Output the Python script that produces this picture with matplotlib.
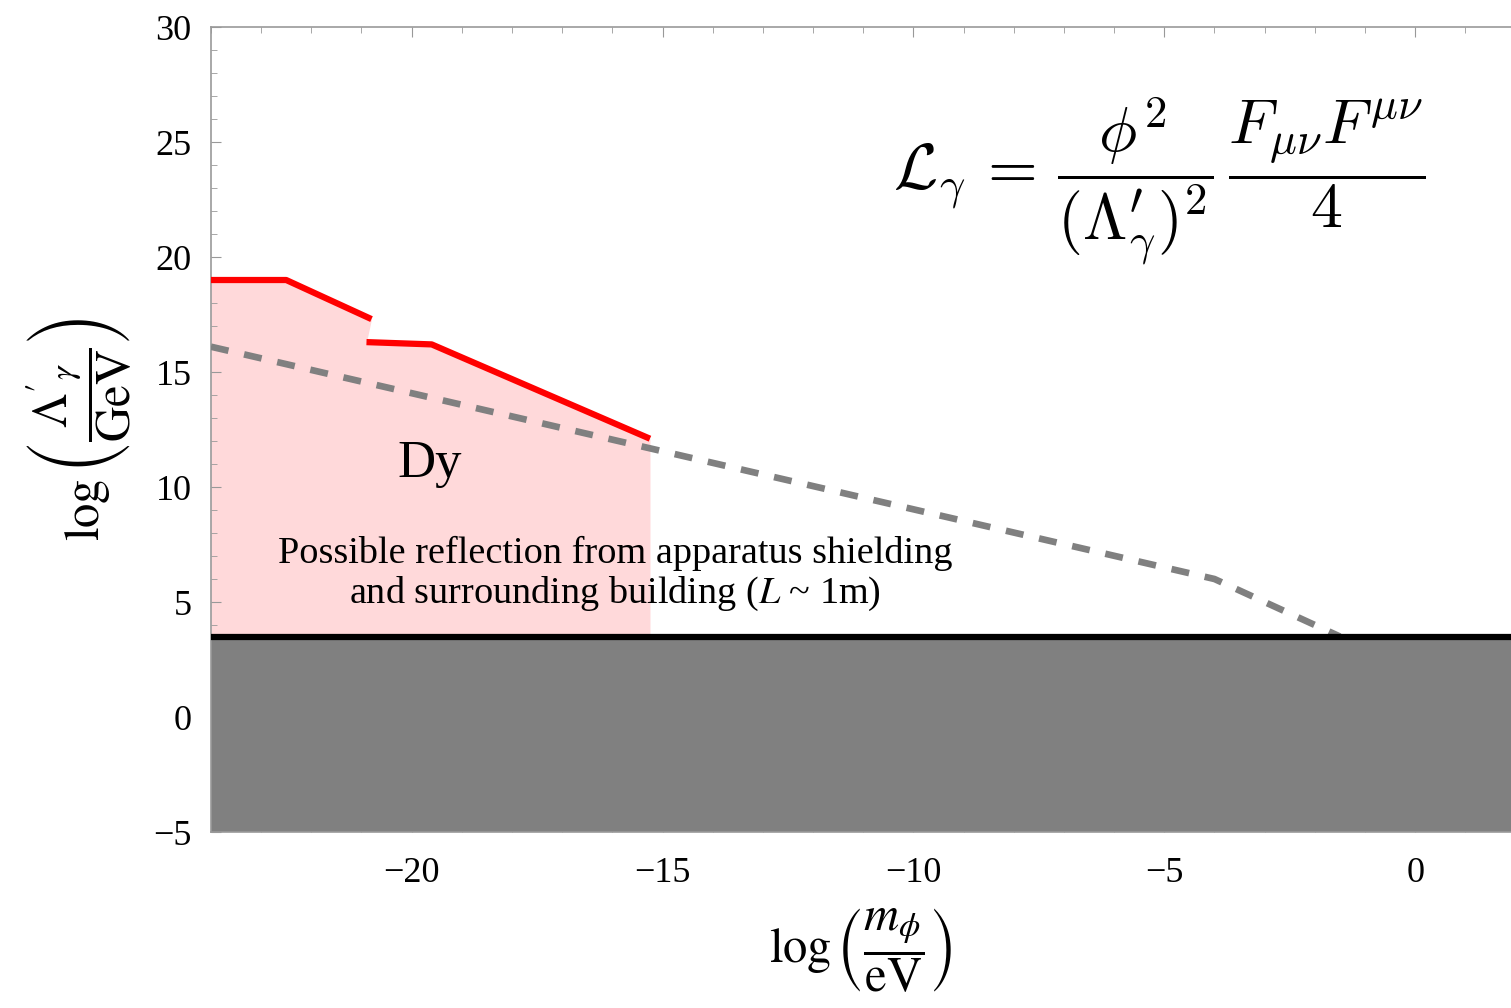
import numpy as np
import matplotlib
matplotlib.use("Agg")
import matplotlib.pyplot as plt
from matplotlib.ticker import MultipleLocator

# data
red1_x = [-24.0, -22.5, -20.8]
red1_y = [19.0, 19.0, 17.3]
red2_x = [-20.9, -19.6, -15.25]
red2_y = [16.3, 16.2, 12.1]
dash_x = [-24.0, -4.0, -1.5]
dash_y = [16.1, 6.0, 3.5]
floor_y = 3.5
ymin = -5

plt.rcParams['font.family'] = ['Liberation Serif', 'DejaVu Serif']
plt.rcParams['mathtext.fontset'] = 'stix'

fig = plt.figure(figsize=(15.11, 10.08), dpi=100)
ax = fig.add_axes([0.1396, 0.1746, 0.8604, 0.7986])

# pink excluded region
fx = red1_x + red2_x
fy = red1_y + red2_y
ax.fill_between(fx, floor_y, fy, color='#ffd9da', lw=0, zorder=1)

# grey band + black edge
ax.axhspan(ymin, floor_y, color='#808080', lw=0, zorder=2)
ax.axhline(floor_y, color='black', lw=4.5, zorder=4)

ax.plot(red1_x, red1_y, color='red', lw=4.5, solid_capstyle='butt', zorder=5)
ax.plot(red2_x, red2_y, color='red', lw=4.5, solid_capstyle='butt', zorder=5)
ax.plot(dash_x, dash_y, color='#808080', lw=4.8, dashes=(2.7, 2.4), zorder=3)

ax.set_xlim(-24.0, 1.91)
ax.set_ylim(ymin, 30)
ax.xaxis.set_major_locator(MultipleLocator(5))
ax.xaxis.set_minor_locator(MultipleLocator(1))
ax.yaxis.set_major_locator(MultipleLocator(5))
ax.yaxis.set_minor_locator(MultipleLocator(1))
ax.tick_params(which='both', direction='in', color='#999999', labelsize=26)
ax.tick_params(which='major', length=7)
ax.tick_params(which='minor', length=4)
ax.tick_params(axis='y', pad=14)
ax.tick_params(axis='x', pad=18)
ax.tick_params(top=True, right=False, which='both')
for s in ['left', 'top', 'bottom']:
    ax.spines[s].set_color('#999999')
    ax.spines[s].set_linewidth(1.2)
ax.spines['right'].set_visible(False)

ax.set_xlabel(r'$\log\left(\dfrac{m_\phi}{\mathrm{eV}}\right)$', fontsize=35, labelpad=12)
ax.set_ylabel(r"$\log\left(\dfrac{\Lambda'_\gamma}{\mathrm{GeV}}\right)$", fontsize=35, labelpad=14)

ax.text(-19.65, 11.0, 'Dy', fontsize=38, ha='center', va='center', zorder=6)
ax.text(-15.95, 6.2, 'Possible reflection from apparatus shielding\n'
        r'and surrounding building ($L$ ~ 1m)',
        fontsize=27.5, ha='center', va='center', linespacing=1.15, zorder=6)
ax.text(-5.1, 23.3,
        r'$\mathcal{L}_\gamma\, =\, \dfrac{\phi^2}{(\Lambda^{\prime}_\gamma)^2}\,\dfrac{F_{\mu\nu}F^{\mu\nu}}{4}$',
        fontsize=46, ha='center', va='center', math_fontfamily='cm', zorder=6)

fig.savefig('out.png', dpi=100)
